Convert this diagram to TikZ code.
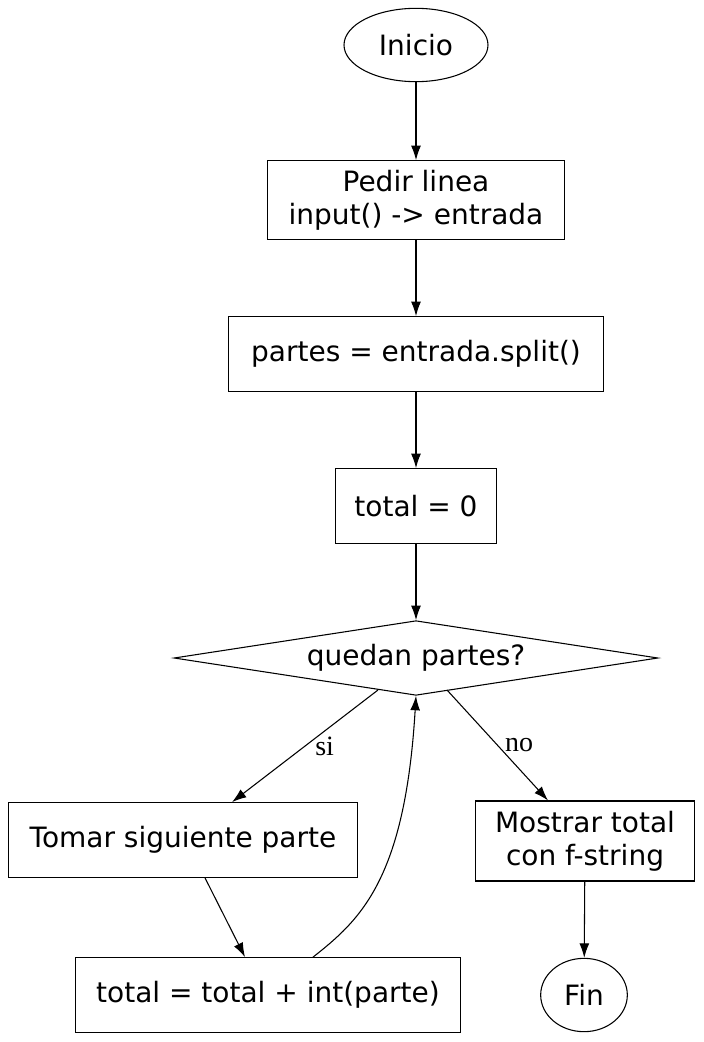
\documentclass[tikz,border=0pt]{standalone}
\usepackage{fontspec}
\setmainfont{DejaVu Sans}
\newfontfamily\lblfont{Liberation Serif}
\usetikzlibrary{shapes.geometric}
\usetikzlibrary{arrows.meta}

\begin{document}
\begin{tikzpicture}[x=0.75pt, y=-0.75pt, >={Latex[length=3.8mm, width=2.6mm]},
    line width=0.8pt,
    box/.style={draw, align=center, inner sep=0pt, minimum height=56pt, font=\fontsize{21}{25}\selectfont},
    term/.style={draw, ellipse, inner sep=0pt, minimum height=55pt, font=\fontsize{21}{25}\selectfont},
    lbl/.style={font=\lblfont\fontsize{21}{25}\selectfont}]
        \useasboundingbox (0,0) rectangle (703,1042);

        % Nodes
        \node (inicio) at (416,45) [term, minimum width=108pt] {Inicio};
        \node (pedir) at (416,200) [box, minimum width=223pt, minimum height=59pt] {Pedir linea\\input() -> entrada};
        \node (partes) at (416,354) [box, minimum width=281pt] {partes = entrada.split()};
        \node (total0) at (416,506) [box, minimum width=121pt] {total = 0};
        \node (quedan) at (416,658) [draw, diamond, aspect=6.5, inner sep=0pt, minimum width=363pt, minimum height=56pt, font=\fontsize{21}{25}\selectfont] {quedan partes?};
        \node (tomar) at (183,840) [box, minimum width=262pt] {Tomar siguiente parte};
        \node (mostrar) at (585,841) [box, minimum width=164pt, minimum height=60pt] {Mostrar total\\con f-string};
        \node (sumar) at (268,995) [box, minimum width=289pt] {total = total + int(parte)};
        \node (fin) at (584,995) [term, minimum width=65pt] {Fin};

        % Arrows
        \draw[->] (inicio) -- (pedir);
        \draw[->] (pedir) -- (partes);
        \draw[->] (partes) -- (total0);
        \draw[->] (total0) -- (quedan);
        \draw[->] (378,690) -- (tomar.north -| 232,0) node[lbl, pos=0.5, right=4pt] {si};
        \draw[->] (447,690) -- (mostrar.north -| 548,0) node[lbl, pos=0.5, right=2pt] {no};
        \draw[->] (tomar.south -| 205,0) -- (sumar.north -| 245,0);
        \draw[->] (mostrar) -- (fin);

        % Loop back
        \draw[->] (sumar.north -| 313,0) .. controls (360,920) and (405,880) .. (quedan.south);

    \end{tikzpicture}
\end{document}
